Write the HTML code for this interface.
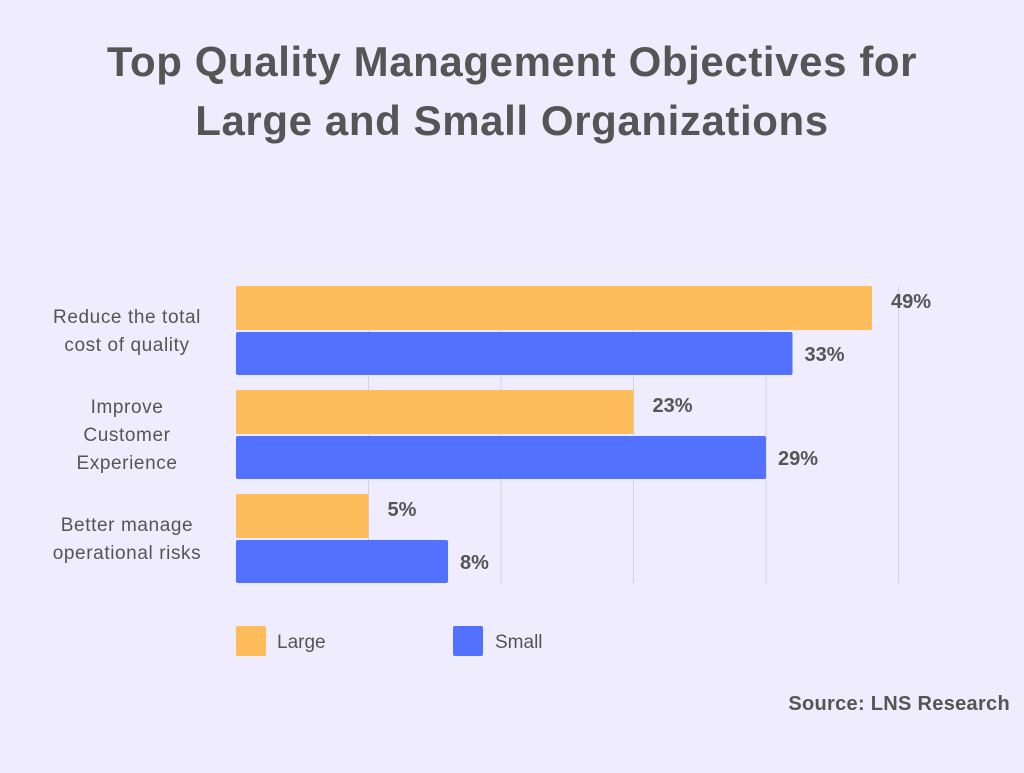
<!DOCTYPE html>
<html><head><meta charset="utf-8"><style>
body{margin:0;background:#efecfd;}
svg text{font-family:"Liberation Sans",sans-serif;}
</style></head><body>
<svg id="chart" width="1024" height="768" viewBox="0 0 1024 768">
<rect width="1024" height="768" fill="#efecfd"/>
<text x="512" y="76" text-anchor="middle" font-size="42" font-weight="bold" fill="#555555" letter-spacing="0.6">Top Quality Management Objectives for</text>
<text x="512" y="135" text-anchor="middle" font-size="42" font-weight="bold" fill="#555555" letter-spacing="0.6">Large and Small Organizations</text>
<g id="grid"></g>
<g id="bars"></g>
<g id="cats"></g>
<rect x="236" y="626" width="30" height="30" rx="2" fill="#ffbc5a"/>
<text x="277" y="648" font-size="19" fill="#555555">Large</text>
<rect x="453" y="626" width="30" height="30" rx="2" fill="#5271ff"/>
<text x="495" y="648" font-size="19" fill="#555555">Small</text>
<text x="1010" y="710" text-anchor="end" font-size="20" font-weight="bold" fill="#555555" letter-spacing="0.3">Source: LNS Research</text>
</svg>
<script>
const categories=[["Reduce the total","cost of quality"],["Improve","Customer","Experience"],["Better manage","operational risks"]];
const largeValues=[48,30,10];
const smallValues=[42,40,16];
const largeLabels=["49%","23%","5%"];
const smallLabels=["33%","29%","8%"];
const gridTicks=[10,20,30,40,50];
const NS="http://www.w3.org/2000/svg";
const x0=236, pxPerUnit=13.25;
function xs(v){return x0+v*pxPerUnit;}
function mk(tag,attrs,parent){const e=document.createElementNS(NS,tag);for(const k in attrs)e.setAttribute(k,attrs[k]);parent.appendChild(e);return e;}
const grid=document.getElementById('grid'),bars=document.getElementById('bars'),cats=document.getElementById('cats');
gridTicks.forEach(t=>{const l=mk('line',{x1:xs(t),x2:xs(t),y1:286,y2:583,stroke:'#d4d1e6','stroke-width':1},grid);

});
const groupTop=286, groupStep=104, barH=44, barGap=2;
categories.forEach((c,i)=>{
  const y=groupTop+i*groupStep;
  const b1=mk('rect',{x:x0,y:y,width:xs(largeValues[i])-x0,height:barH,fill:'#ffbc5a',rx:1},bars);
  
  
  const b2=mk('rect',{x:x0,y:y+barH+barGap,width:xs(smallValues[i])-x0,height:barH-1,fill:'#5271ff',rx:2},bars);
  
  
  const t1=mk('text',{x:xs(largeValues[i])+19,y:y+22,'font-size':20,'font-weight':'bold',fill:'#555555'},bars);t1.textContent=largeLabels[i];
  
  
  const t2=mk('text',{x:xs(smallValues[i])+12,y:y+barH+barGap+29,'font-size':20,'font-weight':'bold',fill:'#555555'},bars);t2.textContent=smallLabels[i];
  
  
  const cy=y+barH+1, n=c.length, lh=28;
  c.forEach((line,j)=>{const t=mk('text',{x:127,y:cy-(n-1)*lh/2+j*lh+6,'text-anchor':'middle','font-size':19,'letter-spacing':0.6,fill:'#555555'},cats);t.textContent=line;
  
  });
});
</script>
</body></html>
